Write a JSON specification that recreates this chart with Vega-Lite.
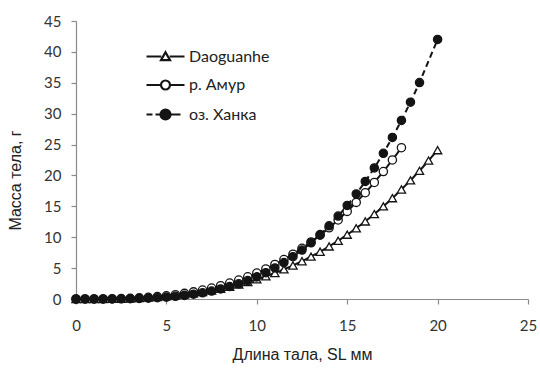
{
  "$schema": "https://vega.github.io/schema/vega-lite/v6.json",
  "autosize": "none",
  "width": 452,
  "height": 278,
  "padding": {"left": 76, "top": 21, "right": 12, "bottom": 70},
  "background": "white",
  "config": {
    "view": {"stroke": null},
    "axis": {
      "grid": false,
      "domainColor": "#8a8a8a",
      "domainWidth": 1.2,
      "tickColor": "#8a8a8a",
      "tickWidth": 1.2,
      "tickSize": 5,
      "labelFont": "Lato",
      "labelFontSize": 15,
      "labelColor": "#333333",
      "labelFlush": false,
      "titleFont": "Liberation Sans",
      "titleFontSize": 16,
      "titleFontWeight": "normal",
      "titleColor": "#222222"
    }
  },
  "data": {
    "values": [
      {"s": "Daoguanhe", "L": 0, "W": 0},
      {"s": "Daoguanhe", "L": 0.5, "W": 0.001},
      {"s": "Daoguanhe", "L": 1, "W": 0.004},
      {"s": "Daoguanhe", "L": 1.5, "W": 0.013},
      {"s": "Daoguanhe", "L": 2, "W": 0.029},
      {"s": "Daoguanhe", "L": 2.5, "W": 0.056},
      {"s": "Daoguanhe", "L": 3, "W": 0.095},
      {"s": "Daoguanhe", "L": 3.5, "W": 0.149},
      {"s": "Daoguanhe", "L": 4, "W": 0.219},
      {"s": "Daoguanhe", "L": 4.5, "W": 0.309},
      {"s": "Daoguanhe", "L": 5, "W": 0.421},
      {"s": "Daoguanhe", "L": 5.5, "W": 0.556},
      {"s": "Daoguanhe", "L": 6, "W": 0.717},
      {"s": "Daoguanhe", "L": 6.5, "W": 0.906},
      {"s": "Daoguanhe", "L": 7, "W": 1.124},
      {"s": "Daoguanhe", "L": 7.5, "W": 1.376},
      {"s": "Daoguanhe", "L": 8, "W": 1.661},
      {"s": "Daoguanhe", "L": 8.5, "W": 1.982},
      {"s": "Daoguanhe", "L": 9, "W": 2.342},
      {"s": "Daoguanhe", "L": 9.5, "W": 2.743},
      {"s": "Daoguanhe", "L": 10, "W": 3.186},
      {"s": "Daoguanhe", "L": 10.5, "W": 3.674},
      {"s": "Daoguanhe", "L": 11, "W": 4.209},
      {"s": "Daoguanhe", "L": 11.5, "W": 4.793},
      {"s": "Daoguanhe", "L": 12, "W": 5.428},
      {"s": "Daoguanhe", "L": 12.5, "W": 6.115},
      {"s": "Daoguanhe", "L": 13, "W": 6.859},
      {"s": "Daoguanhe", "L": 13.5, "W": 7.653},
      {"s": "Daoguanhe", "L": 14, "W": 8.51},
      {"s": "Daoguanhe", "L": 14.5, "W": 9.426},
      {"s": "Daoguanhe", "L": 15, "W": 10.41},
      {"s": "Daoguanhe", "L": 15.5, "W": 11.45},
      {"s": "Daoguanhe", "L": 16, "W": 12.56},
      {"s": "Daoguanhe", "L": 16.5, "W": 13.75},
      {"s": "Daoguanhe", "L": 17, "W": 14.99},
      {"s": "Daoguanhe", "L": 17.5, "W": 16.32},
      {"s": "Daoguanhe", "L": 18, "W": 17.73},
      {"s": "Daoguanhe", "L": 18.5, "W": 19.2},
      {"s": "Daoguanhe", "L": 19, "W": 20.75},
      {"s": "Daoguanhe", "L": 19.5, "W": 22.4},
      {"s": "Daoguanhe", "L": 20, "W": 24.09},
      {"s": "р. Амур", "L": 0, "W": 0},
      {"s": "р. Амур", "L": 0.5, "W": 0.001},
      {"s": "р. Амур", "L": 1, "W": 0.004},
      {"s": "р. Амур", "L": 1.5, "W": 0.014},
      {"s": "р. Амур", "L": 2, "W": 0.034},
      {"s": "р. Амур", "L": 2.5, "W": 0.066},
      {"s": "р. Амур", "L": 3, "W": 0.113},
      {"s": "р. Амур", "L": 3.5, "W": 0.18},
      {"s": "р. Амур", "L": 4, "W": 0.269},
      {"s": "р. Амур", "L": 4.5, "W": 0.383},
      {"s": "р. Амур", "L": 5, "W": 0.525},
      {"s": "р. Амур", "L": 5.5, "W": 0.699},
      {"s": "р. Амур", "L": 6, "W": 0.907},
      {"s": "р. Амур", "L": 6.5, "W": 1.153},
      {"s": "р. Амур", "L": 7, "W": 1.441},
      {"s": "р. Амур", "L": 7.5, "W": 1.772},
      {"s": "р. Амур", "L": 8, "W": 2.15},
      {"s": "р. Амур", "L": 8.5, "W": 2.579},
      {"s": "р. Амур", "L": 9, "W": 3.062},
      {"s": "р. Амур", "L": 9.5, "W": 3.601},
      {"s": "р. Амур", "L": 10, "W": 4.2},
      {"s": "р. Амур", "L": 10.5, "W": 4.862},
      {"s": "р. Амур", "L": 11, "W": 5.59},
      {"s": "р. Амур", "L": 11.5, "W": 6.388},
      {"s": "р. Амур", "L": 12, "W": 7.258},
      {"s": "р. Амур", "L": 12.5, "W": 8.203},
      {"s": "р. Амур", "L": 13, "W": 9.227},
      {"s": "р. Амур", "L": 13.5, "W": 10.33},
      {"s": "р. Амур", "L": 14, "W": 11.52},
      {"s": "р. Амур", "L": 14.5, "W": 12.8},
      {"s": "р. Амур", "L": 15, "W": 14.18},
      {"s": "р. Амур", "L": 15.5, "W": 15.64},
      {"s": "р. Амур", "L": 16, "W": 17.2},
      {"s": "р. Амур", "L": 16.5, "W": 18.87},
      {"s": "р. Амур", "L": 17, "W": 20.63},
      {"s": "р. Амур", "L": 17.5, "W": 22.51},
      {"s": "р. Амур", "L": 18, "W": 24.49},
      {"s": "оз. Ханка", "L": 0, "W": 0},
      {"s": "оз. Ханка", "L": 0.5, "W": 0.0001},
      {"s": "оз. Ханка", "L": 1, "W": 0.001},
      {"s": "оз. Ханка", "L": 1.5, "W": 0.004},
      {"s": "оз. Ханка", "L": 2, "W": 0.012},
      {"s": "оз. Ханка", "L": 2.5, "W": 0.026},
      {"s": "оз. Ханка", "L": 3, "W": 0.05},
      {"s": "оз. Ханка", "L": 3.5, "W": 0.086},
      {"s": "оз. Ханка", "L": 4, "W": 0.139},
      {"s": "оз. Ханка", "L": 4.5, "W": 0.21},
      {"s": "оз. Ханка", "L": 5, "W": 0.306},
      {"s": "оз. Ханка", "L": 5.5, "W": 0.43},
      {"s": "оз. Ханка", "L": 6, "W": 0.585},
      {"s": "оз. Ханка", "L": 6.5, "W": 0.777},
      {"s": "оз. Ханка", "L": 7, "W": 1.011},
      {"s": "оз. Ханка", "L": 7.5, "W": 1.291},
      {"s": "оз. Ханка", "L": 8, "W": 1.621},
      {"s": "оз. Ханка", "L": 8.5, "W": 2.015},
      {"s": "оз. Ханка", "L": 9, "W": 2.466},
      {"s": "оз. Ханка", "L": 9.5, "W": 2.987},
      {"s": "оз. Ханка", "L": 10, "W": 3.584},
      {"s": "оз. Ханка", "L": 10.5, "W": 4.259},
      {"s": "оз. Ханка", "L": 11, "W": 5.024},
      {"s": "оз. Ханка", "L": 11.5, "W": 5.893},
      {"s": "оз. Ханка", "L": 12, "W": 6.853},
      {"s": "оз. Ханка", "L": 12.5, "W": 7.924},
      {"s": "оз. Ханка", "L": 13, "W": 9.1},
      {"s": "оз. Ханка", "L": 13.5, "W": 10.42},
      {"s": "оз. Ханка", "L": 14, "W": 11.85},
      {"s": "оз. Ханка", "L": 14.5, "W": 13.42},
      {"s": "оз. Ханка", "L": 15, "W": 15.14},
      {"s": "оз. Ханка", "L": 15.5, "W": 17.0},
      {"s": "оз. Ханка", "L": 16, "W": 19.03},
      {"s": "оз. Ханка", "L": 16.5, "W": 21.22},
      {"s": "оз. Ханка", "L": 17, "W": 23.59},
      {"s": "оз. Ханка", "L": 17.5, "W": 26.15},
      {"s": "оз. Ханка", "L": 18, "W": 28.91},
      {"s": "оз. Ханка", "L": 18.5, "W": 31.86},
      {"s": "оз. Ханка", "L": 19, "W": 35.03},
      {"s": "оз. Ханка", "L": 20, "W": 42.02}
    ]
  },
  "encoding": {
    "x": {
      "field": "L",
      "type": "quantitative",
      "scale": {"domain": [0, 25], "nice": false},
      "axis": {"title": "Длина тала, SL мм", "values": [0, 5, 10, 15, 20, 25], "labelPadding": 14, "titlePadding": 13}
    },
    "y": {
      "field": "W",
      "type": "quantitative",
      "scale": {"domain": [0, 45], "nice": false},
      "axis": {"title": "Масса тела, г", "values": [0, 5, 10, 15, 20, 25, 30, 35, 40, 45], "labelPadding": 10, "titlePadding": 20, "titleY": 159}
    }
  },
  "layer": [
    {
      "mark": {"type": "line", "color": "#141414", "strokeWidth": 2},
      "encoding": {
        "detail": {"field": "s", "type": "nominal"},
        "strokeDash": {
          "condition": {"test": "datum.s === 'оз. Ханка'", "value": [6, 4]},
          "value": [1, 0]
        }
      }
    },
    {
      "mark": {"type": "point", "filled": true, "size": 68, "stroke": "#141414", "strokeWidth": 1.3, "opacity": 1},
      "encoding": {
        "fill": {
          "condition": {"test": "datum.s === 'оз. Ханка'", "value": "#141414"},
          "value": "#ffffff"
        },
        "shape": {
          "condition": {"test": "datum.s === 'Daoguanhe'", "value": "triangle-up"},
          "value": "circle"
        }
      }
    },
    {
      "mark": {"type": "point", "filled": true, "size": 60, "opacity": 0},
      "encoding": {
        "fill": {
          "field": "s",
          "type": "nominal",
          "scale": {"domain": ["Daoguanhe", "р. Амур", "оз. Ханка"], "range": ["#ffffff", "#ffffff", "#141414"]},
          "legend": {
            "title": null,
            "orient": "none",
            "legendX": 78,
            "legendY": 24,
            "padding": 0,
            "rowPadding": 8.5,
            "symbolSize": 400,
            "symbolOpacity": 1,
            "labelOffset": 12,
            "labelFont": "Lato",
            "labelFontSize": 16,
            "labelColor": "#222222"
          }
        },
        "stroke": {
          "field": "s",
          "type": "nominal",
          "scale": {"domain": ["Daoguanhe", "р. Амур", "оз. Ханка"], "range": ["#141414", "#141414", "#141414"]},
          "legend": {
            "title": null,
            "orient": "none",
            "legendX": 78,
            "legendY": 24,
            "padding": 0,
            "rowPadding": 8.5,
            "symbolSize": 400,
            "symbolOpacity": 1,
            "labelOffset": 12,
            "labelFont": "Lato",
            "labelFontSize": 16,
            "labelColor": "#222222"
          }
        },
        "strokeWidth": {
          "field": "s",
          "type": "nominal",
          "scale": {"domain": ["Daoguanhe", "р. Амур", "оз. Ханка"], "range": [2.2, 2.2, 2.2]},
          "legend": {
            "title": null,
            "orient": "none",
            "legendX": 78,
            "legendY": 24,
            "padding": 0,
            "rowPadding": 8.5,
            "symbolSize": 400,
            "symbolOpacity": 1,
            "labelOffset": 12,
            "labelFont": "Lato",
            "labelFontSize": 16,
            "labelColor": "#222222"
          }
        },
        "shape": {
          "field": "s",
          "type": "nominal",
          "scale": {
            "domain": ["Daoguanhe", "р. Амур", "оз. Ханка"],
            "range": [
              "M-1.9,0H-0.42M0.42,0H1.9M0,-0.42L0.45,0.36L-0.45,0.36Z",
              "M-1.9,0H-0.45M0.45,0H1.9M0.45,0A0.45,0.45,0,1,1,-0.45,0A0.45,0.45,0,1,1,0.45,0Z",
              "M-1.9,0H-1.3M-1.0,0H-0.45M0.45,0H1.5M0.5,0A0.5,0.5,0,1,1,-0.5,0A0.5,0.5,0,1,1,0.5,0Z"
            ]
          },
          "legend": {
            "title": null,
            "orient": "none",
            "legendX": 78,
            "legendY": 24,
            "padding": 0,
            "rowPadding": 8.5,
            "symbolSize": 400,
            "symbolOpacity": 1,
            "labelOffset": 12,
            "labelFont": "Lato",
            "labelFontSize": 16,
            "labelColor": "#222222"
          }
        }
      }
    }
  ]
}
